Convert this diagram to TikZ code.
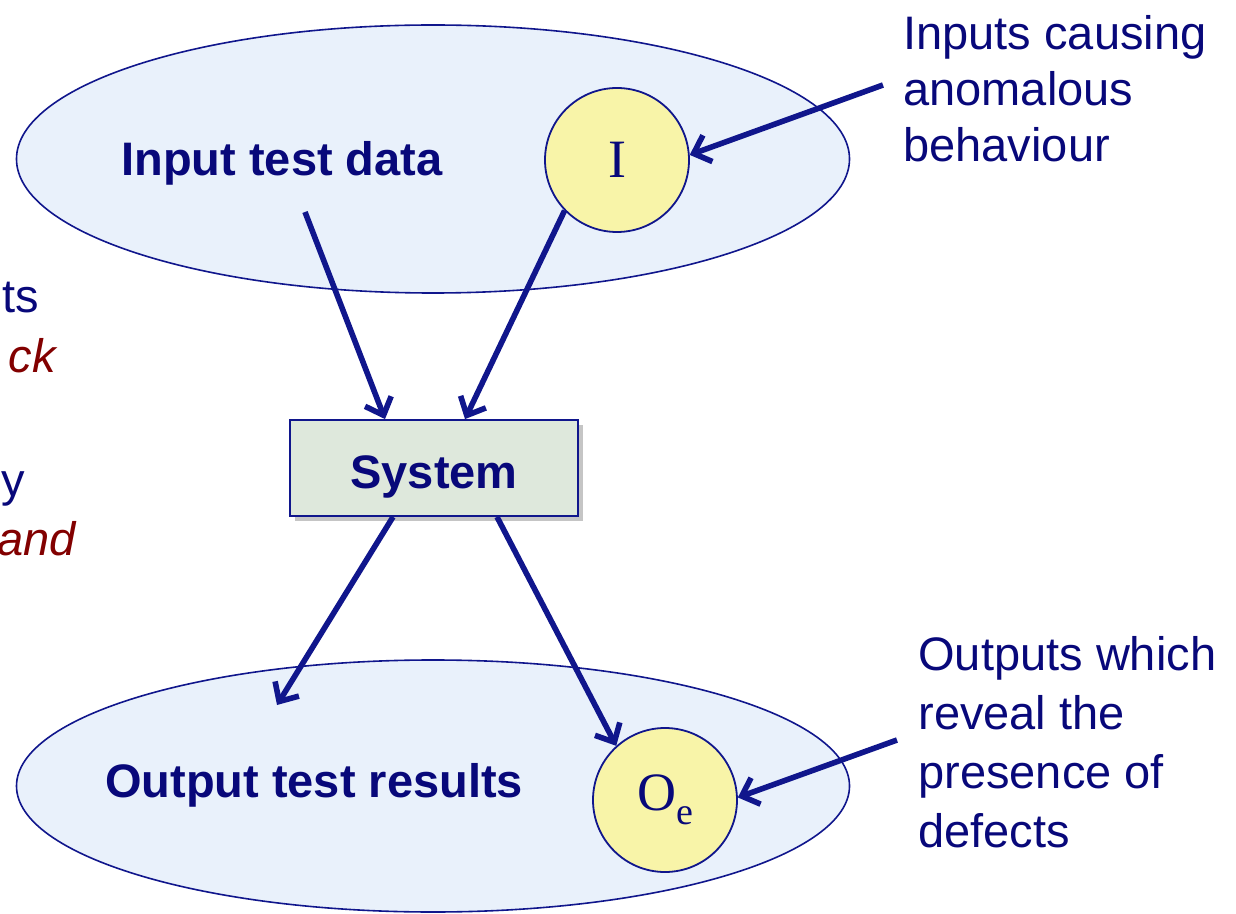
\documentclass[tikz,border=0pt]{standalone}
\usepackage{fontspec}
\setmainfont{Liberation Sans}
\newfontfamily\seriffam{Liberation Serif}
\usetikzlibrary{shapes.geometric,arrows.meta,shadows}
\definecolor{navy}{RGB}{8,8,122}
\definecolor{arrowblue}{RGB}{16,22,140}
\definecolor{dred}{RGB}{130,0,0}
\definecolor{ellfill}{RGB}{233,241,251}
\definecolor{circfill}{RGB}{248,244,168}
\definecolor{boxfill}{RGB}{222,232,220}
\tikzset{
  ell/.style={ellipse, draw=arrowblue, line width=0.8pt, fill=ellfill, inner sep=0pt},
  circ/.style={circle, draw=arrowblue, line width=0.9pt, fill=circfill, minimum size=72pt, inner sep=0pt, text=navy, font=\seriffam\fontsize{27}{30}\selectfont},
  sysbox/.style={rectangle, draw=arrowblue, line width=0.9pt, fill=boxfill, minimum width=144pt, minimum height=48pt, inner sep=0pt, drop shadow={shadow xshift=2.5pt, shadow yshift=-2.5pt, fill=black!45, opacity=0.5}},
  biglabel/.style={text=navy, font=\bfseries\fontsize{23.5}{28}\selectfont, inner sep=0pt},
  sidetext/.style={text=navy, font=\fontsize{23.5}{28}\selectfont, inner sep=0pt, align=left},
  redtext/.style={text=dred, font=\itshape\fontsize{23.5}{28}\selectfont, inner sep=0pt},
  arr/.style={draw=arrowblue, line width=2.8pt, -{Straight Barb[length=7.5pt,width=14pt,line width=2.8pt]}}
}
\begin{document}
\begin{tikzpicture}[x=0.5pt,y=-0.5pt]
\useasboundingbox (0,0) rectangle (1236,914);
% ellipses
\node[ell, minimum width=416.5pt, minimum height=134pt] (inE) at (433,159) {};
\node[ell, minimum width=416.5pt, minimum height=126pt] (outE) at (433,786) {};
% labels in ellipses
\node[biglabel, anchor=base] (inL) at (282,176) {Input test data};
\node[biglabel, anchor=base] (outL) at (314,797) {Output test results};
% circles
\node[circ] (I) at (617,160) {I};
\node[circ] (O) at (665,800) {O\raisebox{-7pt}{\fontsize{19}{20}\selectfont e}};
% system
\node[sysbox] (sys) at (434,468) {};
\node[biglabel, anchor=base] (sysL) at (434,488) {System};
% side texts
\node[sidetext, anchor=north west] (inNote) at (903,15) {Inputs causing\\anomalous\\behaviour};
\node[sidetext, anchor=north west, font=\fontsize{23.5}{29.5}\selectfont] (outNote) at (918,636) {Outputs which\\reveal the\\presence of\\defects};
% cut-off texts on left
\node[sidetext, anchor=base east] (l1) at (39,313) {ts};
\node[redtext, anchor=base east] (l2) at (56,372) {ck};
\node[sidetext, anchor=base east] (l3) at (25,496) {y};
\node[redtext, anchor=base east] (l4) at (76,555) {and};
% coordinates
\coordinate (s1) at (305,212);
\coordinate (e3) at (277,705);
\coordinate (s5) at (883,85);
\coordinate (s6) at (897,740);
% arrows
\draw[arr] (s1) -- ([xshift=-24.5pt]sys.north);
\draw[arr] (I.-136) -- ([xshift=15.5pt]sys.north);
\draw[arr] ([xshift=-20.5pt]sys.south) -- (e3);
\draw[arr] ([xshift=31.5pt]sys.south) -- (O.132);
\draw[arr] (s5) -- (I.4);
\draw[arr] (s6) -- (O.2);
\end{tikzpicture}
\end{document}
